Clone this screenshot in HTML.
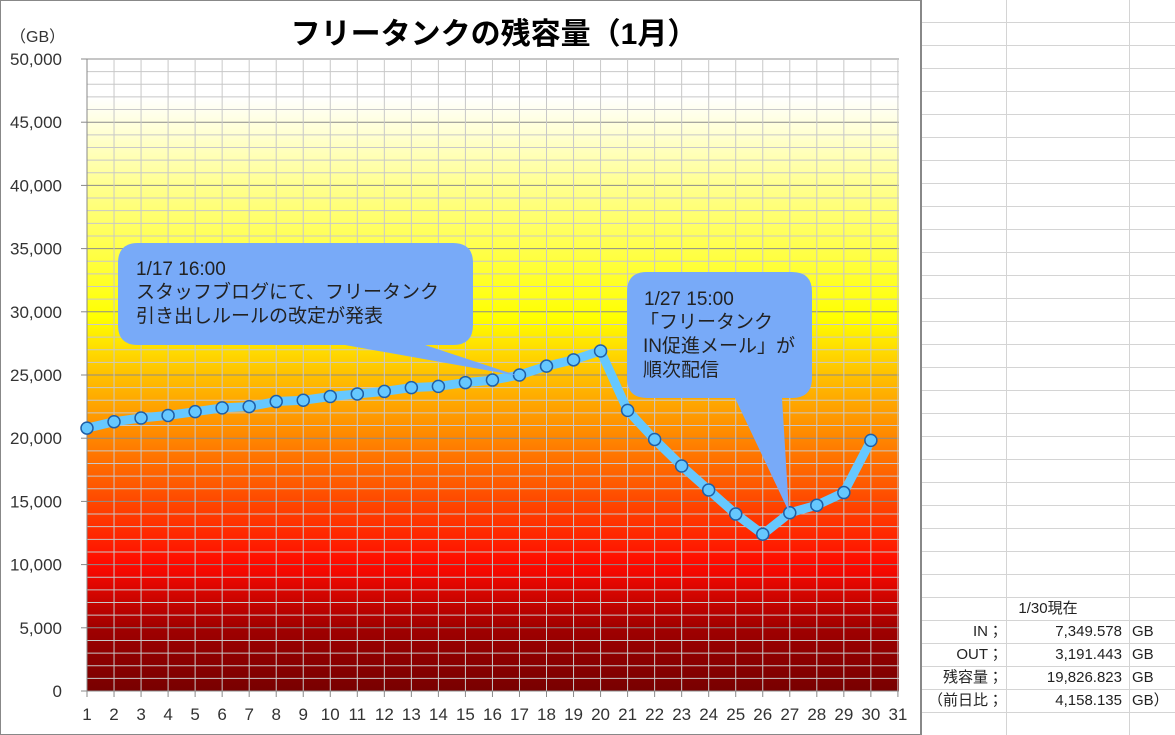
<!DOCTYPE html>
<html><head><meta charset="utf-8"><style>
body{margin:0;width:1175px;height:735px;overflow:hidden;background:#fff;font-family:"Liberation Sans","Noto Sans CJK JP",sans-serif}
</style></head><body>
<svg width="1175" height="735" xmlns="http://www.w3.org/2000/svg" style="position:absolute;left:0;top:0">
<defs>
<linearGradient id="g" x1="0" y1="0" x2="0" y2="1">
<stop offset="0" stop-color="#ffffff"/>
<stop offset="0.06" stop-color="#ffffff"/>
<stop offset="0.1" stop-color="#ffffe0"/>
<stop offset="0.2" stop-color="#ffff90"/>
<stop offset="0.41" stop-color="#ffff00"/>
<stop offset="0.5" stop-color="#ffc000"/>
<stop offset="0.61" stop-color="#ff8000"/>
<stop offset="0.8" stop-color="#ff0a00"/>
<stop offset="0.9" stop-color="#a00000"/>
<stop offset="1" stop-color="#780000"/>
</linearGradient>
</defs>
<rect x="0.5" y="0.5" width="920" height="734" fill="#fff" stroke="#888"/>
<rect x="87" y="59" width="812" height="632" fill="url(#g)"/>
<g id="grid"></g>
<text x="494" y="44" text-anchor="middle" font-size="30" font-weight="bold" fill="#000">フリータンクの残容量（1月）</text>
<text x="10" y="42" font-size="16" fill="#333">（GB）</text>
<g id="ylab" font-size="17" fill="#333" text-anchor="end"></g>
<g id="xlab" font-size="17" fill="#333" text-anchor="middle"></g>
<polyline id="line" fill="none" stroke="#66c8ff" stroke-width="9" stroke-linejoin="round"/>
<g id="dots"></g>
<path d="M138,243 H453 Q473,243 473,263 V325 Q473,345 453,345 H425 L519,376 L345,345 H138 Q118,345 118,325 V263 Q118,243 138,243 Z" fill="#78aaf8"/>
<text font-size="19" fill="#222"><tspan x="136" y="275">1/17 16:00</tspan><tspan x="136" y="298">スタッフブログにて、フリータンク</tspan><tspan x="136" y="322">引き出しルールの改定が発表</tspan></text>
<path d="M647,272 H792 Q812,272 812,292 V378 Q812,398 792,398 H782 L789,512 L735,398 H647 Q627,398 627,378 V292 Q627,272 647,272 Z" fill="#78aaf8"/>
<text font-size="19" fill="#222"><tspan x="644" y="305">1/27 15:00</tspan><tspan x="640" y="328">「フリータンク</tspan><tspan x="643" y="352">IN促進メール」が</tspan><tspan x="643" y="376">順次配信</tspan></text>
<g id="sheet" stroke="#d4d4d4" stroke-width="1"></g>
<line x1="921" y1="0" x2="921" y2="735" stroke="#888" stroke-width="2"/>
<g font-size="15" fill="#222">
<text x="1048" y="613" text-anchor="middle">1/30現在</text>
<text x="1003" y="636" text-anchor="end">IN；</text><text x="1122" y="636" text-anchor="end">7,349.578</text><text x="1132" y="636">GB</text>
<text x="1003" y="659" text-anchor="end">OUT；</text><text x="1122" y="659" text-anchor="end">3,191.443</text><text x="1132" y="659">GB</text>
<text x="1003" y="682" text-anchor="end">残容量；</text><text x="1122" y="682" text-anchor="end">19,826.823</text><text x="1132" y="682">GB</text>
<text x="1003" y="705" text-anchor="end">（前日比；</text><text x="1122" y="705" text-anchor="end">4,158.135</text><text x="1132" y="705">GB）</text>
</g>
</svg>
<script>
var ns="http://www.w3.org/2000/svg";
function el(p,t,a,txt){var e=document.createElementNS(ns,t);for(var k in a)e.setAttribute(k,a[k]);if(txt!=null)e.textContent=txt;document.getElementById(p).appendChild(e);return e;}
var X=function(i){return 87+(i-1)*27.03;},Y=function(v){return 691-v*0.01264;};
for(var v=0;v<=50000;v+=1000){var y=Y(v);el("grid","line",{x1:87,x2:899,y1:y,y2:y,stroke:v%5000==0?"#8c8c8c":"#c8c8c8","stroke-width":1});}
for(var i=2;i<=31;i++){el("grid","line",{x1:X(i),x2:X(i),y1:59,y2:691,stroke:"#c8c8c8","stroke-width":1});}
el("grid","line",{x1:87,x2:87,y1:59,y2:691,stroke:"#888"});
el("grid","line",{x1:87,x2:899,y1:691,y2:691,stroke:"#888"});
for(var v=0;v<=50000;v+=5000){var y=Y(v);el("grid","line",{x1:81,x2:87,y1:y,y2:y,stroke:"#888"});el("ylab","text",{x:62,y:y+6},v.toLocaleString("en-US"));}
for(var i=1;i<=31;i++){el("grid","line",{x1:X(i),x2:X(i),y1:691,y2:697,stroke:"#888"});el("xlab","text",{x:X(i),y:720},String(i));}
var d=[20800,21300,21600,21800,22100,22400,22500,22900,23000,23300,23500,23700,24000,24100,24400,24600,25000,25700,26200,26900,22200,19900,17800,15900,14000,12400,14100,14700,15700,19827];
var pts=d.map(function(v,k){return X(k+1).toFixed(1)+","+Y(v).toFixed(1);}).join(" ");
document.getElementById("line").setAttribute("points",pts);
d.forEach(function(v,k){el("dots","circle",{cx:X(k+1),cy:Y(v),r:6,fill:"#66c8ff",stroke:"#1f5fa8","stroke-width":1.5});});
for(var y=22;y<735;y+=23){el("sheet","line",{x1:921,x2:1175,y1:y+0.5,y2:y+0.5});}
[1006.5,1129.5].forEach(function(x){el("sheet","line",{x1:x,x2:x,y1:0,y2:735});});
</script>
</body></html>
